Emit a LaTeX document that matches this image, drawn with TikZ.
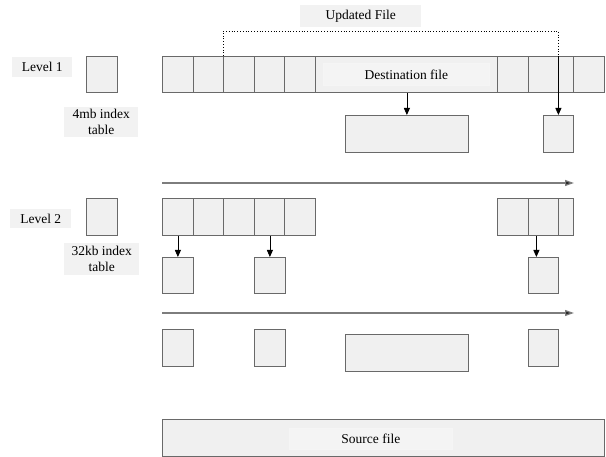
\documentclass[tikz,border=0pt]{standalone}
\usepackage{fontspec}
\setmainfont{Liberation Serif}
\definecolor{boxfill}{RGB}{240,240,240}
\definecolor{boxline}{RGB}{105,105,105}
\definecolor{lblfill}{RGB}{242,242,242}
\definecolor{arrline}{RGB}{125,125,125}
\usetikzlibrary{arrows.meta,positioning}

\begin{document}
\begin{tikzpicture}[x=1pt, y=-1pt, every node/.style={font=\fontsize{13.5}{16}\selectfont},
  bx/.style={draw=boxline, fill=boxfill, line width=0.8pt, anchor=north west, inner sep=0pt, minimum width=31pt, minimum height=36pt},
  lbl/.style={fill=lblfill, anchor=north west, inner sep=0pt, align=center},
  inlbl/.style={lbl, fill=boxfill!70!white, draw=white!96!black, line width=0.8pt},
  arr/.style={-{Triangle[length=7pt, width=6pt]}, line width=0.8pt},
  longarr/.style={arrline, line width=1.2pt, -{Triangle[length=9pt, width=6pt, fill=black!85]}}]
\useasboundingbox (0,0) rectangle (606,457);
% Level 1
\node[lbl, minimum width=60pt, minimum height=20pt] (lev1) at (12,57) {Level 1};
\node[bx] (idx1) at (86,56) {};
\node[lbl, minimum width=74pt, minimum height=30pt] (idx1lbl) at (64,107) {4mb index\\table};
\node[bx] (l1a) at (162,56) {};
\node[bx] (l1b) at (193,56) {};
\node[bx] (l1c) at (223,56) {};
\node[bx] (l1d) at (254,56) {};
\node[bx] (l1e) at (284,56) {};
\node[bx, minimum width=182pt] (dst) at (315,56) {};
\node[bx] (l1f) at (497,56) {};
\node[bx, minimum width=45pt] (l1g) at (528,56) {};
\node[bx] (l1h) at (573,56) {};
\node[inlbl, minimum width=166pt, minimum height=22pt] (dstlbl) at (323,63) {Destination file};
\node[bx, minimum width=123pt, minimum height=37pt] (big1) at (345,115) {};
\node[bx, minimum width=30pt, minimum height=37pt] (s1) at (543,115) {};
\draw[arr] (dst.south -| big1.north) -- (big1.north);
% Updated file
\node[lbl, minimum width=121pt, minimum height=22pt] (upd) at (300,5) {Updated File};
\coordinate (updline) at (0,31);
\draw[dotted, line width=0.8pt] (l1c.north west) |- (updline -| s1.north) -- (s1.north |- l1g.north);
\draw[arr] (s1.north |- l1g.north) -- (s1.north);
% Level 2
\coordinate (a1s) at (162,183);
\coordinate (a1e) at (574,183);
\draw[longarr] (a1s) -- (a1e);
\node[lbl, minimum width=61pt, minimum height=19pt] (lev2) at (10,209) {Level 2};
\node[bx, minimum height=37pt] (idx2) at (86,198) {};
\node[lbl, minimum width=75pt, minimum height=32pt] (idx2lbl) at (64,243) {32kb index\\table};
\node[bx, minimum height=37pt] (l2a) at (162,198) {};
\node[bx, minimum height=37pt] (l2b) at (193,198) {};
\node[bx, minimum height=37pt] (l2c) at (223,198) {};
\node[bx, minimum height=37pt] (l2d) at (254,198) {};
\node[bx, minimum height=37pt] (l2e) at (284,198) {};
\node[bx, minimum height=37pt] (l2f) at (497,198) {};
\node[bx, minimum width=30pt, minimum height=37pt] (l2g) at (528,198) {};
\node[bx, minimum width=15pt, minimum height=37pt] (l2h) at (558,198) {};
\node[bx, minimum height=36pt] (r1) at (162,257) {};
\node[bx, minimum height=36pt] (r2) at (254,257) {};
\node[bx, minimum width=30pt, minimum height=36pt] (r3) at (528,257) {};
\draw[arr] (l2a.south) -- (r1.north);
\draw[arr] (l2d.south) -- (r2.north);
\draw[arr] ([xshift=-7pt]l2g.south) -- ([xshift=-7pt]r3.north);
% Second pass
\coordinate (a2s) at (162,313);
\coordinate (a2e) at (574,313);
\draw[longarr] (a2s) -- (a2e);
\node[bx, minimum height=37pt] (q1) at (162,329) {};
\node[bx, minimum height=37pt] (q2) at (254,329) {};
\node[bx, minimum width=123pt, minimum height=37pt] (big2) at (345,334) {};
\node[bx, minimum width=30pt, minimum height=37pt] (q3) at (528,329) {};
% Source file
\node[bx, minimum width=442pt, minimum height=37pt] (src) at (162,419.5) {};
\node[inlbl, minimum width=163pt, minimum height=21pt] (srclbl) at (289,428) {Source file};
\end{tikzpicture}
\end{document}
